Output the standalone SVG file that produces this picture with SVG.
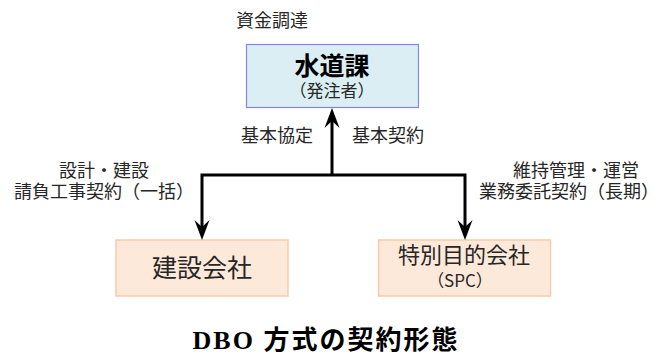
<svg xmlns="http://www.w3.org/2000/svg" width="669" height="356" viewBox="0 0 669 356">
<style>
.t{font-family:"Noto Sans CJK JP","Noto Sans",sans-serif;fill:#262626;font-size:18px}
.b{font-weight:bold;fill:#000}
.top{fill:#daeef3;stroke:#8585f2;stroke-width:1.2}
.sub{fill:#fde9d9;stroke:#f9cbab;stroke-width:1.5}
.ln{fill:none;stroke:#000;stroke-width:3}
.ah{fill:#000}
.title{font-family:"Liberation Serif","Noto Sans CJK JP",serif;font-weight:bold;font-size:26px;letter-spacing:2px;fill:#000}
</style>
<rect width="669" height="356" fill="#fff"/>
<text class="t" x="272" y="27" text-anchor="middle">資金調達</text>
<g id="suidouka">
<rect class="top" x="246.5" y="44.5" width="172" height="63"/>
<text class="t b" x="332" y="75" text-anchor="middle" style="font-size:25px">水道課</text>
<text class="t" x="332" y="97" text-anchor="middle" style="font-size:17px">（発注者）</text>
</g>
<g id="kensetsu">
<rect class="sub" x="116" y="240" width="172" height="56"/>
<text class="t" x="202" y="277" text-anchor="middle" style="font-size:25px">建設会社</text>
</g>
<g id="spc">
<rect class="sub" x="378.5" y="240" width="172" height="56"/>
<text class="t" x="464" y="263" text-anchor="middle" style="font-size:22px">特別目的会社</text>
<text class="t" x="460" y="287" text-anchor="middle" style="font-size:17px">（SPC）</text>
</g>
<g id="connectors">
<polyline class="ln" points="202,234 202,175 465,175 465,234"/>
<line class="ln" x1="332" y1="175" x2="332" y2="114"/>
<path class="ah" d="M332,108 L339.5,128 L332,121 L324.5,128 Z"/>
<path class="ah" d="M202,240 L209.5,220 L202,227 L194.5,220 Z"/>
<path class="ah" d="M465,240 L472.5,220 L465,227 L457.5,220 Z"/>
</g>
<g id="labels">
<text class="t" x="313" y="142" text-anchor="end">基本協定</text>
<text class="t" x="352" y="142">基本契約</text>
<text class="t" x="104" y="177" text-anchor="middle">設計・建設</text>
<text class="t" x="104" y="198" text-anchor="middle">請負工事契約（一括）</text>
<text class="t" x="576" y="177" text-anchor="middle">維持管理・運営</text>
<text class="t" x="569" y="198" text-anchor="middle">業務委託契約（長期）</text>
</g>
<text class="title" x="326" y="349" text-anchor="middle">DBO 方式の契約形態</text>
</svg>
